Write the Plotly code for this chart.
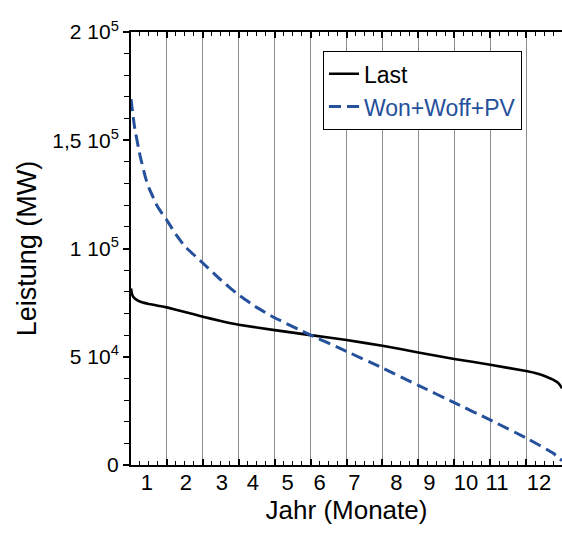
import plotly.graph_objects as go

# Data (x in months of the year, y in MW)
last_x = [0, 0.02, 0.05, 0.1, 0.18, 0.3, 0.5, 0.75, 1, 1.5, 2, 2.5, 3, 4, 5, 6, 7, 8, 9, 10,
          11, 11.3, 11.55, 11.75, 11.9, 12]
last_y = [81500, 79500, 78000, 77000, 76000, 75200, 74400, 73600, 72800, 70700, 68500, 66500,
          64800, 62300, 60000, 57700, 55100, 52000, 49000, 46300, 43400, 42300, 40900,
          39400, 37800, 35500]

ren_x = [0, 0.1, 0.25, 0.4, 0.5, 0.75, 1, 1.25, 1.5, 2, 2.5, 3, 3.5, 4, 5, 6, 7, 8, 9, 10,
         11, 11.75, 12]
ren_y = [169000, 156000, 143000, 133000, 128000, 119000, 113000, 106500, 101000, 93300,
         85500, 78500, 72800, 68000, 60000, 52500, 44800, 36800, 28800, 20800, 12500, 5500,
         2000]

month_labels = ["1", "2", "3", "4", "5", "6", "7", "8", "9", "10", "11", "12"]
month_label_pos = [0.44, 1.53, 2.53, 3.39, 4.36, 5.25, 6.22, 7.39, 8.31, 9.33, 10.19, 11.36]

y_tickvals = [0, 50000, 100000, 150000, 200000]
y_ticktext = ["0", "5 10<sup>4</sup>", "1 10<sup>5</sup>", "1,5 10<sup>5</sup>", "2 10<sup>5</sup>"]

FONT = "Arial, Liberation Sans, sans-serif"
BLUE = "#24509c"

fig = go.Figure()
fig.add_trace(go.Scatter(x=last_x, y=last_y, mode="lines", name="Last",
                         line=dict(color="black", width=2.6, shape="spline", smoothing=0.3)))
fig.add_trace(go.Scatter(x=ren_x, y=ren_y, mode="lines",
                         name=f"<span style='color:{BLUE}'>Won+Woff+PV</span>",
                         line=dict(color=BLUE, width=3, dash="12px,6px", shape="spline",
                                   smoothing=0.4)))
# empty trace to make the label axis render
fig.add_trace(go.Scatter(x=[], y=[], xaxis="x2", showlegend=False, hoverinfo="skip"))

fig.update_layout(
    width=562, height=533,
    margin=dict(l=131, r=0, t=32, b=68),
    paper_bgcolor="white", plot_bgcolor="white",
    font=dict(family=FONT, size=21, color="black"),
    showlegend=True,
    legend=dict(x=0.445, y=0.956, xanchor="left", yanchor="top",
                bgcolor="white", bordercolor="black", borderwidth=1.2,
                font=dict(size=23), tracegroupgap=0, itemwidth=30),
    xaxis=dict(range=[0, 12], dtick=1, tick0=0, showticklabels=False,
               showgrid=True, gridcolor="#8c8c8c", gridwidth=1.2,
               showline=True, linecolor="black", linewidth=2, mirror="ticks",
               ticks="inside", ticklen=6, tickcolor="black", tickwidth=1.5,
               minor=dict(dtick=0.25, ticks="inside", ticklen=4, tickcolor="black",
                          tickwidth=1.2, showgrid=False),
               zeroline=False),
    xaxis2=dict(range=[0, 12], overlaying="x", anchor="y", side="bottom",
                tickmode="array", tickvals=month_label_pos, ticktext=month_labels,
                ticks="", showgrid=False, showline=False, zeroline=False,
                tickfont=dict(size=22), ticklabelstandoff=2,
                title=dict(text="Jahr (Monate)", font=dict(size=26), standoff=4)),
    yaxis=dict(range=[0, 200000], tickmode="array", tickvals=y_tickvals, ticktext=y_ticktext,
               showgrid=False, zeroline=False,
               showline=True, linecolor="black", linewidth=2,
               ticks="outside", ticklen=6, tickcolor="black", tickwidth=1.5,
               minor=dict(dtick=10000, ticks="outside", ticklen=5, tickcolor="black",
                          tickwidth=1.2, showgrid=False),
               tickfont=dict(size=21),
               title=dict(text="Leistung (MW)", font=dict(size=27), standoff=8)),
)

fig.write_html("out.html")
